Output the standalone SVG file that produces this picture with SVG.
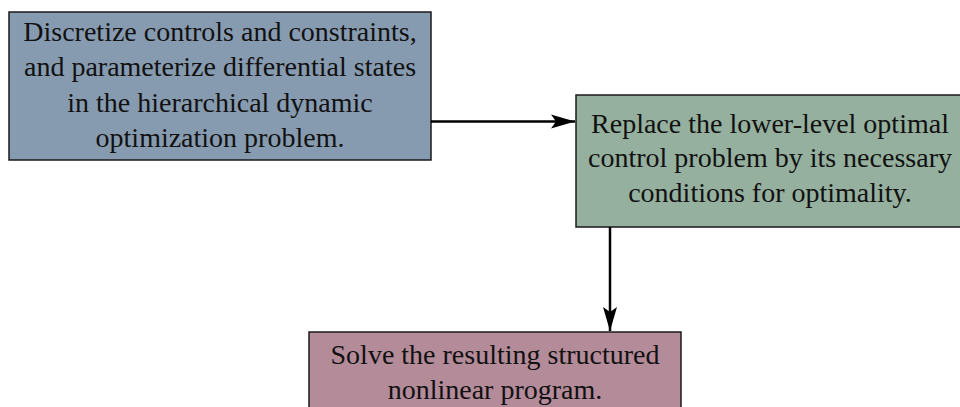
<svg xmlns="http://www.w3.org/2000/svg" width="960" height="407" viewBox="0 0 960 407">
<style>
.box{stroke:#1a1a1a;stroke-width:1.5}
.t{font-family:"Liberation Serif","Times New Roman",serif;font-size:28px;fill:#111;text-anchor:middle}
.c{stroke:#000;stroke-width:2.5;fill:none}
</style>
<defs>
<marker id="ah" markerUnits="userSpaceOnUse" markerWidth="26" markerHeight="16" refX="24" refY="7" orient="auto" viewBox="0 0 26 14">
<path d="M0,0 L24,7 L0,14 L5,7 Z" fill="#000"/>
</marker>
</defs>
<rect width="960" height="407" fill="#fff"/>
<g id="node1">
<rect class="box" x="9" y="12" width="422" height="148" fill="#879bb0"/>
<text class="t" x="220" y="40.5">Discretize controls and constraints,</text>
<text class="t" x="220" y="76">and parameterize differential states</text>
<text class="t" x="220" y="111.5">in the hierarchical dynamic</text>
<text class="t" x="220" y="147">optimization problem.</text>
</g>
<g id="node2">
<rect class="box" x="576" y="95" width="400" height="132" fill="#95b09e"/>
<text class="t" x="770" y="132.5">Replace the lower-level optimal</text>
<text class="t" x="770" y="167">control problem by its necessary</text>
<text class="t" x="770" y="201.5">conditions for optimality.</text>
</g>
<g id="node3">
<rect class="box" x="309" y="332" width="372" height="90" fill="#b48b99"/>
<text class="t" x="495" y="363.5">Solve the resulting structured</text>
<text class="t" x="495" y="398.5">nonlinear program.</text>
</g>
<g id="connectors">
<line class="c" x1="431" y1="121.5" x2="575" y2="121.5" marker-end="url(#ah)"/>
<line class="c" x1="610" y1="227" x2="610" y2="331" marker-end="url(#ah)"/>
</g>
</svg>
